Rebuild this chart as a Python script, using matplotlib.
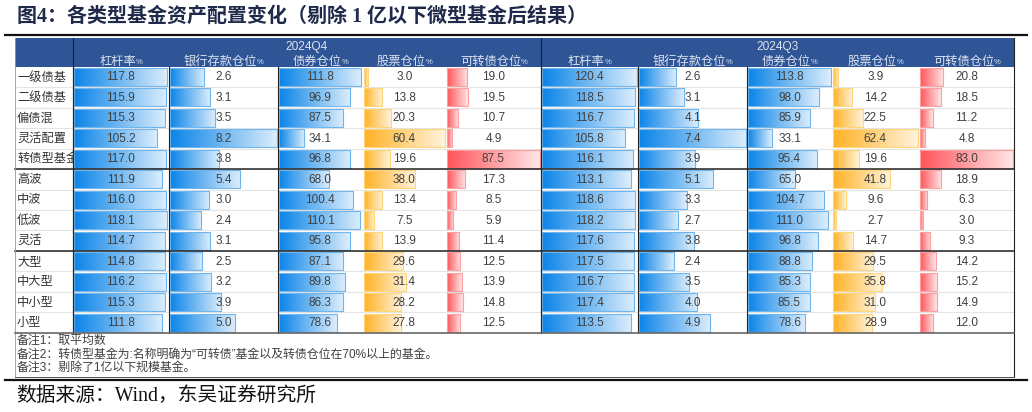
import numpy as np
import matplotlib
matplotlib.use("Agg")
import matplotlib.pyplot as plt
from matplotlib.colors import LinearSegmentedColormap
from matplotlib.patches import Rectangle

plt.rcParams['font.family'] = ['Liberation Sans', 'Noto Sans CJK SC', 'DejaVu Sans']

# данные
categories = ['一级债基', '二级债基', '偏债混', '灵活配置', '转债型基金', '高波', '中波',
              '低波', '灵活', '大型', '中大型', '中小型', '小型']
columns = ['杠杆率', '银行存款仓位', '债券仓位', '股票仓位', '可转债仓位']
periods = ['2024Q4', '2024Q3']

lev_q4 = [117.8, 115.9, 115.3, 105.2, 117.0, 111.9, 116.0, 118.1, 114.7, 114.8, 116.2, 115.3, 111.8]
bank_q4 = [2.6, 3.1, 3.5, 8.2, 3.8, 5.4, 3.0, 2.4, 3.1, 2.5, 3.2, 3.9, 5.0]
bond_q4 = [111.8, 96.9, 87.5, 34.1, 96.8, 68.0, 100.4, 110.1, 95.8, 87.1, 89.8, 86.3, 78.6]
stock_q4 = [3.0, 13.8, 20.3, 60.4, 19.6, 38.0, 13.4, 7.5, 13.9, 29.6, 31.4, 28.2, 27.8]
conv_q4 = [19.0, 19.5, 10.7, 4.9, 87.5, 17.3, 8.5, 5.9, 11.4, 12.5, 13.9, 14.8, 12.5]

lev_q3 = [120.4, 118.5, 116.7, 105.8, 116.1, 113.1, 118.6, 118.2, 117.6, 117.5, 116.7, 117.4, 113.5]
bank_q3 = [2.6, 3.1, 4.1, 7.4, 3.9, 5.1, 3.3, 2.7, 3.8, 2.4, 3.5, 4.0, 4.9]
bond_q3 = [113.8, 98.0, 85.9, 33.1, 95.4, 65.0, 104.7, 111.0, 96.8, 88.8, 85.3, 85.5, 78.6]
stock_q3 = [3.9, 14.2, 22.5, 62.4, 19.6, 41.8, 9.6, 2.7, 14.7, 29.5, 35.8, 31.0, 28.9]
conv_q3 = [20.8, 18.5, 11.2, 4.8, 83.0, 18.9, 6.3, 3.0, 9.3, 14.2, 15.2, 14.9, 12.0]

notes = ['备注1：取平均数',
         '备注2：转债型基金为:名称明确为“可转债”基金以及转债仓位在70%以上的基金。',
         '备注3：剔除了1亿以下规模基金。']
title = '图4：各类型基金资产配置变化（剔除 1 亿以下微型基金后结果）'
source = '数据来源：Wind，东吴证券研究所'

# раскладка (в пикселях)
W, H = 1032, 412
tab_l, tab_r = 15, 1014
head_top, head_bot = 38.3, 66.7
row_h = 20.47
label_r = 72.5
edges = {'2024Q4': [72.5, 168.5, 278, 362.5, 446, 541],
         '2024Q3': [541, 637.7, 747.3, 831.7, 919, 1014]}
group_breaks = [5, 9]

blue = ('#0A84E8', '#DDEEFC', '#6DB6F0')
orange = ('#FFB224', '#FFF4DE', '#FFD57A')
red = ('#FF5459', '#FFE6E7', '#FF9EA1')
col_colors = [blue, blue, blue, orange, red]

data = {'2024Q4': [lev_q4, bank_q4, bond_q4, stock_q4, conv_q4],
        '2024Q3': [lev_q3, bank_q3, bond_q3, stock_q3, conv_q3]}

fig = plt.figure(figsize=(W / 100, H / 100), dpi=100)
ax = fig.add_axes([0, 0, 1, 1])
ax.axis('off')

grad = np.linspace(0, 1, 256).reshape(1, -1)
n = len(categories)
data_bot = head_bot + n * row_h

# шапка
ax.add_patch(Rectangle((tab_l, head_top), tab_r - tab_l, head_bot - head_top,
                       facecolor='#2F5597', edgecolor='none', zorder=1))
for p in periods:
    e = edges[p]
    ax.text((e[0] + e[-1]) / 2, 47, p, ha='center', va='center', fontsize=8.6,
            color='#DCE3EE', zorder=6)
    for j, name in enumerate(columns):
        cx = (e[j] + e[j + 1]) / 2 - 3
        t = ax.text(cx, 61.5, name, ha='center', va='center', fontsize=8.8,
                    color='#DCE3EE', zorder=6)
        ax.annotate('%', xy=(1, 0.12), xycoords=t, ha='left', va='bottom',
                    fontsize=5.5, color='#DCE3EE', zorder=6)

# строки
for i, cat in enumerate(categories):
    y0 = head_bot + i * row_h
    yc = y0 + row_h / 2
    ax.text(17, yc + 0.5, cat, ha='left', va='center', fontsize=8.8, color='#333333', zorder=1)
    if i > 0:
        ax.plot([tab_l, tab_r], [y0, y0], color='#E4E4E4', lw=0.8, zorder=2)
    for p in periods:
        e = edges[p]
        for j, vals in enumerate(data[p]):
            left, right = e[j] + 1, e[j + 1] - 1.2
            length = vals[i] / max(vals) * (right - left)
            dark, light, edge = col_colors[j]
            cmap = LinearSegmentedColormap.from_list('g', [dark, light])
            ax.imshow(grad, cmap=cmap, extent=[left, left + length, y0 + row_h - 1.3, y0 + 1.3],
                      aspect='auto', interpolation='bilinear', zorder=3)
            ax.add_patch(Rectangle((left, y0 + 1.3), length, row_h - 2.6, facecolor='none',
                                   edgecolor=edge, lw=0.8, zorder=4))
            ax.text((e[j] + e[j + 1]) / 2, yc + 0.5, f'{vals[i]:.1f}', ha='center', va='center',
                    fontsize=8.5, color='#404040', zorder=6)

# линии таблицы
for b in group_breaks:
    yb = head_bot + b * row_h
    ax.plot([tab_l, tab_r], [yb, yb], color='#222222', lw=1.1, zorder=5)
for p in periods:
    for x in edges[p][:3]:
        ax.plot([x, x], [head_bot, data_bot], color='#222222', lw=0.8, zorder=5)
for x in [label_r, 541]:
    ax.plot([x, x], [head_top, data_bot], color='#222222', lw=0.8, zorder=5)
ax.plot([tab_r, tab_r], [head_top, 376.5], color='#222222', lw=0.8, zorder=5)
ax.plot([tab_l, tab_l], [head_top, 376.5], color='#999999', lw=0.6, zorder=5)
ax.plot([tab_l, tab_r], [data_bot, data_bot], color='#666666', lw=1.2, zorder=5)
ax.plot([tab_l, tab_r], [376.5, 376.5], color='#555555', lw=0.7, zorder=5)

# примечания
for k, note in enumerate(notes):
    ax.text(17, 341 + k * 13.5, note, ha='left', va='center', fontsize=8.6, color='#404040')

# заголовок и источник
ax.text(17, 17, title, ha='left', va='center', fontsize=14.4, fontweight='bold',
        color='#1F2A4A', family=['Liberation Serif', 'Noto Sans CJK SC'])
ax.plot([5, 1027], [35.3, 35.3], color='#111111', lw=1.6)
ax.plot([5, 1027], [380.3, 380.3], color='#111111', lw=1.6)
ax.text(16, 396, source, ha='left', va='center', fontsize=14.2, color='#111111',
        family=['Liberation Serif', 'Noto Sans CJK SC'])

ax.set_xlim(0, W)
ax.set_ylim(H, 0)

plt.savefig('out.png', dpi=100)
